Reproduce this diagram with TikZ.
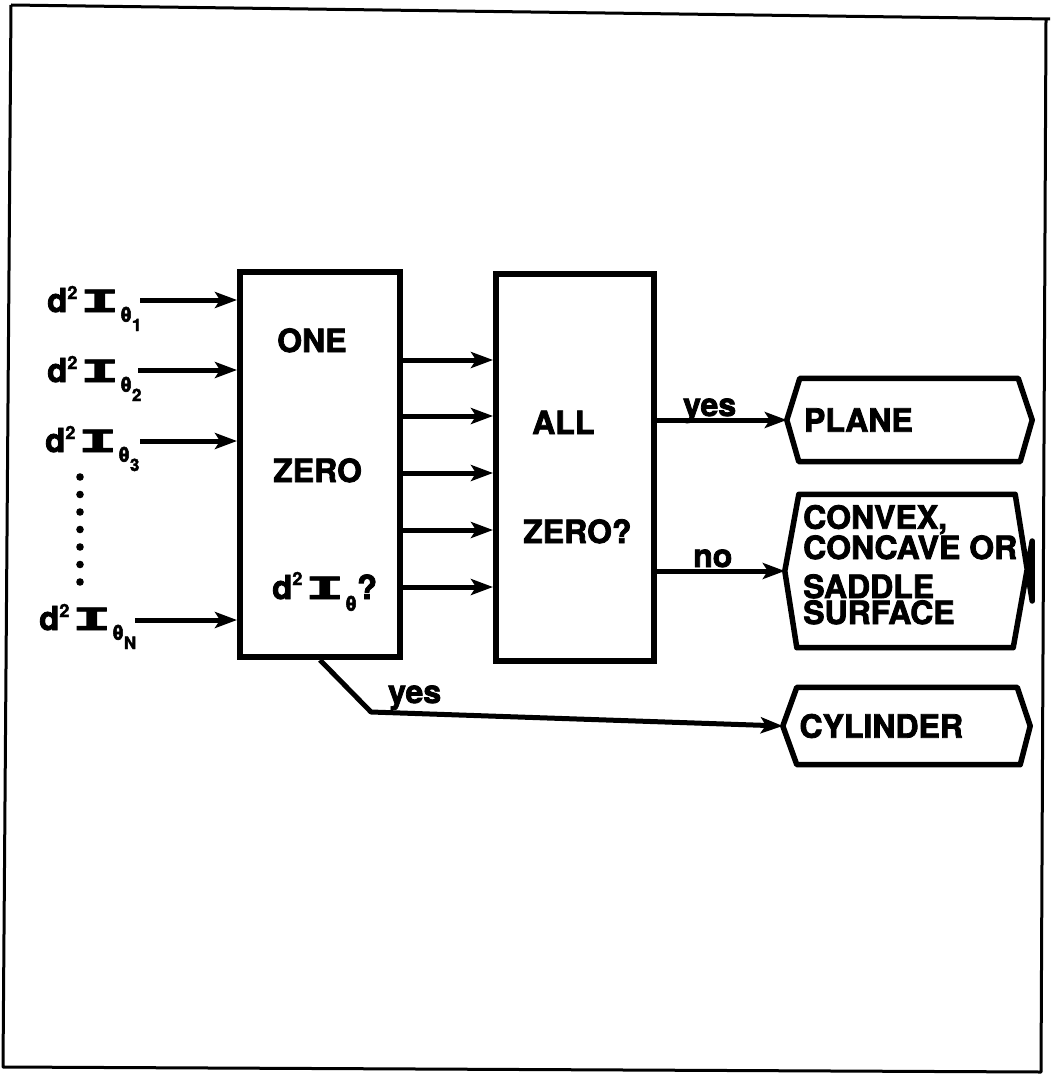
\documentclass[tikz,border=0pt]{standalone}
\usepackage{fontspec}
\usepackage{graphicx}
\setmainfont{TeX Gyre Heros}[BoldFeatures={FakeBold=2.5}]
\newfontfamily\imono{Liberation Mono}[BoldFeatures={FakeBold=2}]
\usetikzlibrary{arrows.meta}
\newcommand{\Iglyph}{\scalebox{1.9}[1]{\fontsize{34}{34}\selectfont\imono\bfseries I}}
\newcommand{\dIlab}[1]{{\fontsize{33}{33}\selectfont d}\raisebox{13pt}{\fontsize{18}{18}\selectfont 2}\hspace{3pt}\Iglyph\hspace{1pt}\raisebox{-10pt}{\fontsize{21}{21}\selectfont θ}\raisebox{-19pt}{\fontsize{17}{17}\selectfont #1}}
\newcommand{\dIbox}{{\fontsize{33}{33}\selectfont d}\raisebox{14pt}{\fontsize{18}{18}\selectfont 2}\hspace{3pt}\Iglyph\hspace{1pt}\raisebox{-12pt}{\fontsize{21}{21}\selectfont θ}{\fontsize{33}{33}\selectfont ?}}
\tikzset{
  blk/.style={draw, line width=6pt, rectangle, inner sep=0pt},
  hexbox/.style={rectangle, inner sep=0pt},
  hexline/.style={line width=5.5pt, line join=round},
  arr/.style={line width=5pt, -{Stealth[length=22pt, width=16pt, inset=5pt]}},
  txt/.style={font=\fontsize{32}{26}\selectfont\bfseries, inner sep=0pt},
  lbl/.style={font=\bfseries, inner sep=0pt, anchor=base west},
}
\begin{document}
\begin{tikzpicture}[x=1pt, y=-1pt]
\useasboundingbox (0,0) rectangle (1050,1083);
% frame
\draw[line width=3pt, line join=round] (11,5) -- (1050,19) (1046,19) -- (1041,1072) -- (3,1067) -- (11,5);

% blocks
\node[blk, minimum width=160pt, minimum height=385pt] (b1) at (320,464.5) {};
\node[blk, minimum width=158pt, minimum height=387pt] (b2) at (575,467.5) {};

% block texts
\node[txt, anchor=base west] (t1) at (277,352) {ONE};
\node[txt, anchor=base west] (t2) at (273,482) {ZERO};
\node[lbl] (t3) at (272,599) {\dIbox};
\node[txt, anchor=base west] (t4) at (532,434) {ALL};
\node[txt, anchor=base west] (t5) at (523,543) {ZERO?};

% input labels
\node[lbl] (l1) at (47,312) {\dIlab{1}};
\node[lbl] (l2) at (47,382) {\dIlab{2}};
\node[lbl] (l3) at (45,452) {\dIlab{3}};
\node[lbl] (lN) at (39,630) {\dIlab{N}};
\foreach \k in {0,...,6} \fill (80,477+17.5*\k) circle (3.8pt);

% input arrows
\coordinate (s1) at (140,300);
\coordinate (s2) at (138,370);
\coordinate (s3) at (140,441);
\coordinate (sN) at (135,620);
\foreach \s in {s1,s2,s3,sN} \draw[arr] (\s) -- (\s -| b1.west);

% middle arrows
\foreach \y [count=\i] in {360,416,473,530,587} {
  \coordinate (m\i) at (0,\y);
  \draw[arr] (b1.east |- m\i) -- (b2.west |- m\i);
}

% outcome shapes
\node[hexbox, minimum width=245pt, minimum height=83pt, text width=211pt, align=left, font=\fontsize{32}{26}\selectfont\bfseries] (pl) at (909.5,420) {PLANE};
\draw[hexline] (pl.west) -- ([xshift=13pt]pl.north west) -- ([xshift=-14pt]pl.north east) -- (pl.east) -- ([xshift=-12pt]pl.south east) -- ([xshift=12pt]pl.south west) -- cycle;

\node[hexbox, minimum width=247pt, minimum height=153pt] (cv) at (908.5,571) {};
\draw[hexline] (cv.west) -- ([xshift=14pt]cv.north west) -- ([xshift=-17pt]cv.north east) -- ([yshift=-30pt]cv.east) -- ([yshift=30pt]cv.east) -- ([xshift=-19pt]cv.south east) -- ([xshift=12pt]cv.south west) -- cycle;
\node[txt, anchor=base west, align=left] (cvt) at (803,624) {CONVEX,\\CONCAVE OR\\[13pt]SADDLE\\SURFACE};

\node[hexbox, minimum width=247pt, minimum height=77pt, text width=214pt, align=left, font=\fontsize{32}{26}\selectfont\bfseries] (cy) at (906.5,726) {CYLINDER};
\draw[hexline] (cy.west) -- ([xshift=14pt]cy.north west) -- ([xshift=-13pt]cy.north east) -- (cy.east) -- ([xshift=-10pt]cy.south east) -- ([xshift=14pt]cy.south west) -- cycle;

% output arrows
\draw[arr] (b2.east |- pl.west) -- (pl.west);
\draw[arr] (b2.east |- cv.west) -- (cv.west);
\node[txt, anchor=base west] (yes1) at (683,416) {yes};
\node[txt, anchor=base west] (no1) at (693,567) {no};

% cylinder path
\coordinate (k1) at (371,712);
\draw[arr, line join=round] (b1.south) -- (k1) -- (cy.west);
\node[txt, anchor=base west] (yes2) at (388,703) {yes};
\end{tikzpicture}
\end{document}
